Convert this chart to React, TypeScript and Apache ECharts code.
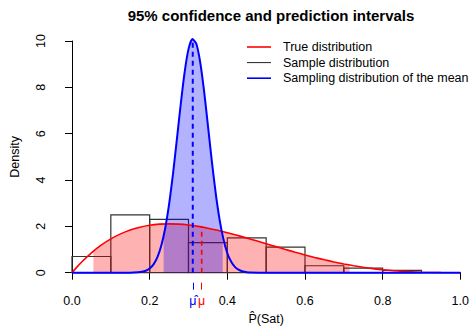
import React, { useEffect, useRef } from "react";
import * as echarts from "echarts";

const TITLE = "95% confidence and prediction intervals";
const X_NAME = "P\u0302(Sat)";
const Y_NAME = "Density";
const MU_HAT_LABEL = "\u03bc\u0302";
const MU_LABEL = "\u03bc";

// Histogram (sample distribution)
const binStart = [0.0, 0.1, 0.2, 0.3, 0.4, 0.5, 0.6, 0.7, 0.8];
const binEnd = [0.1, 0.2, 0.3, 0.4, 0.5, 0.6, 0.7, 0.8, 0.9];
const binDensity = [0.7, 2.5, 2.3, 1.3, 1.5, 1.1, 0.3, 0.2, 0.1];

// True distribution curve
const trueX = [0, 0.0125, 0.025, 0.05, 0.075, 0.1, 0.125, 0.15, 0.175, 0.2, 0.225, 0.25, 0.275, 0.3, 0.325, 0.35, 0.375, 0.4, 0.425, 0.45, 0.475, 0.5, 0.525, 0.55, 0.575, 0.6, 0.625, 0.65, 0.675, 0.7, 0.725, 0.75, 0.775, 0.8, 0.85, 0.9, 0.95, 1.0];
const trueY = [0, 0.241, 0.463, 0.857, 1.187, 1.458, 1.675, 1.842, 1.965, 2.048, 2.095, 2.109, 2.096, 2.058, 1.999, 1.922, 1.831, 1.728, 1.616, 1.497, 1.375, 1.25, 1.125, 1.002, 0.883, 0.768, 0.659, 0.557, 0.463, 0.378, 0.302, 0.234, 0.177, 0.128, 0.057, 0.018, 0.002, 0];

// 95% prediction interval shading (pink)
const predX = [0.055, 0.075, 0.1, 0.125, 0.15, 0.175, 0.2, 0.225, 0.25, 0.275, 0.3, 0.325, 0.35, 0.375, 0.4, 0.425, 0.45, 0.475, 0.5, 0.525, 0.55, 0.575, 0.6, 0.625, 0.65, 0.675, 0.7, 0.715];
const predY = [0.928, 1.187, 1.458, 1.675, 1.842, 1.965, 2.048, 2.095, 2.109, 2.096, 2.058, 1.999, 1.922, 1.831, 1.728, 1.616, 1.497, 1.375, 1.25, 1.125, 1.002, 0.883, 0.768, 0.659, 0.557, 0.463, 0.378, 0.331];

// Sampling distribution of the mean (blue)
const meanX = [0, 0.15, 0.17, 0.18, 0.19, 0.2, 0.21, 0.22, 0.23, 0.24, 0.25, 0.26, 0.27, 0.28, 0.29, 0.3, 0.31, 0.32, 0.33, 0.34, 0.35, 0.36, 0.37, 0.38, 0.39, 0.4, 0.41, 0.42, 0.43, 0.44, 0.45, 0.46, 0.48, 0.5, 1.0];
const meanY = [0, 0, 0.016, 0.038, 0.086, 0.18, 0.36, 0.67, 1.17, 1.92, 2.95, 4.25, 5.74, 7.27, 8.65, 9.65, 10.09, 9.89, 9.1, 7.86, 6.36, 4.83, 3.44, 2.3, 1.44, 0.84, 0.47, 0.24, 0.12, 0.053, 0.023, 0.009, 0.001, 0, 0];

// 95% confidence interval shading (blue)
const ciX = [0.236, 0.24, 0.25, 0.26, 0.27, 0.28, 0.29, 0.3, 0.31, 0.32, 0.33, 0.34, 0.35, 0.36, 0.37, 0.38, 0.388];
const ciY = [1.59, 1.92, 2.95, 4.25, 5.74, 7.27, 8.65, 9.65, 10.09, 9.89, 9.1, 7.86, 6.36, 4.83, 3.44, 2.3, 1.59];

const MU_HAT = 0.311;
const MU_HAT_DENS = 10.09;
const MU = 0.334;
const MU_DENS = 1.973;

const xTicks = [0, 0.2, 0.4, 0.6, 0.8, 1.0];
const legendNames = ["True distribution", "Sample distribution", "Sampling distribution of the mean"];
const legendColors = ["#ff0000", "#222222", "#0000ff"];

const FONT = "'Liberation Sans', Arial, Helvetica, sans-serif";

const zip = (xs: number[], ys: number[]) => xs.map((x, i) => [x, ys[i]]);

export default function App() {
  const ref = useRef<HTMLDivElement>(null);
  useEffect(() => {
    if (!ref.current) return;
    const chart = echarts.init(ref.current, undefined, { renderer: "svg" });
    const legendGraphics: any[] = [];
    legendNames.forEach((name, i) => {
      const y = 47 + i * 15.6;
      legendGraphics.push({
        type: "line",
        shape: { x1: 247, y1: y, x2: 271, y2: y },
        style: { stroke: legendColors[i], lineWidth: i === 1 ? 1 : 1.6 },
      });
      legendGraphics.push({
        type: "text",
        x: 283,
        y: y,
        style: { text: name, font: `12.5px ${FONT}`, fill: "#000", textVerticalAlign: "middle", verticalAlign: "middle" },
      });
    });
    const baseX = {
      type: "value",
      min: 0,
      max: 1,
      position: "bottom",
      offset: 10,
      splitLine: { show: false },
    };
    chart.setOption({
      animation: false,
      title: {
        text: TITLE,
        left: 266,
        textAlign: "center",
        top: 3,
        textStyle: { fontFamily: FONT, fontSize: 15, fontWeight: "bold", color: "#000" },
      },
      grid: { left: 70, right: 10, top: 41, bottom: 61.3, containLabel: false },
      xAxis: [
        {
          ...baseX,
          interval: 0.2,
          axisLine: { show: true, lineStyle: { color: "#000", width: 1 } },
          axisTick: { show: true, length: 7, lineStyle: { color: "#000" }, customValues: xTicks },
          axisLabel: {
            show: true,
            margin: 12,
            color: "#000",
            fontSize: 12.5,
            fontFamily: FONT,
            customValues: xTicks,
            formatter: (v: number) => v.toFixed(1),
          },
          name: X_NAME,
          nameLocation: "middle",
          nameGap: 30,
          nameTextStyle: { fontFamily: FONT, fontSize: 12.5, color: "#000" },
        },
        {
          ...baseX,
          axisLine: { show: false },
          axisTick: { show: true, length: 7, lineStyle: { color: "#0000ff" }, customValues: [MU_HAT] },
          axisLabel: {
            show: true,
            margin: 12,
            color: "#0000ff",
            fontSize: 12.5,
            fontFamily: FONT,
            customValues: [MU_HAT],
            formatter: () => MU_HAT_LABEL,
          },
        },
        {
          ...baseX,
          axisLine: { show: false },
          axisTick: { show: true, length: 7, lineStyle: { color: "#ff0000" }, customValues: [MU] },
          axisLabel: {
            show: true,
            margin: 12,
            color: "#ff0000",
            fontSize: 12.5,
            fontFamily: FONT,
            customValues: [MU],
            formatter: () => MU_LABEL,
          },
        },
      ],
      yAxis: {
        type: "value",
        min: 0,
        max: 10,
        interval: 2,
        offset: 15,
        splitLine: { show: false },
        axisLine: { show: true, lineStyle: { color: "#000" } },
        axisTick: { show: true, length: 7, lineStyle: { color: "#000" } },
        axisLabel: { rotate: 90, margin: 10, color: "#000", fontSize: 12.5, fontFamily: FONT },
        name: Y_NAME,
        nameLocation: "middle",
        nameGap: 36,
        nameTextStyle: { fontFamily: FONT, fontSize: 12.5, color: "#000" },
      },
      graphic: legendGraphics,
      series: [
        {
          name: "Prediction interval",
          type: "line",
          data: zip(predX, predY),
          showSymbol: false,
          symbol: "none",
          smooth: 0.2,
          lineStyle: { width: 0, opacity: 0 },
          areaStyle: { color: "rgba(255,0,0,0.3)", opacity: 1 },
          silent: true,
        },
        {
          name: "Sample distribution",
          type: "custom",
          data: binStart.map((s, i) => [s, binEnd[i], binDensity[i]]),
          encode: { x: [0, 1], y: 2 },
          renderItem: (params: any, api: any) => {
            const p0 = api.coord([api.value(0), api.value(2)]);
            const p1 = api.coord([api.value(1), 0]);
            return {
              type: "rect",
              shape: { x: p0[0], y: p0[1], width: p1[0] - p0[0], height: p1[1] - p0[1] },
              style: { fill: "none", stroke: "#333333", lineWidth: 1.2 },
            };
          },
          silent: true,
        },
        {
          name: "True distribution",
          type: "line",
          data: zip(trueX, trueY),
          showSymbol: false,
          symbol: "none",
          smooth: 0.2,
          lineStyle: { color: "#ff0000", width: 1.6 },
          silent: true,
        },
        {
          name: "mu",
          type: "line",
          data: [[MU, 0], [MU, MU_DENS]],
          showSymbol: false,
          symbol: "none",
          lineStyle: { color: "#ff0000", width: 1.6, type: [5, 4] },
          silent: true,
        },
        {
          name: "Confidence interval",
          type: "line",
          data: zip(ciX, ciY),
          showSymbol: false,
          symbol: "none",
          smooth: 0.2,
          clip: false,
          lineStyle: { width: 0, opacity: 0 },
          areaStyle: { color: "rgba(0,0,255,0.3)", opacity: 1 },
          silent: true,
        },
        {
          name: "Sampling distribution of the mean",
          type: "line",
          data: zip(meanX, meanY),
          showSymbol: false,
          symbol: "none",
          smooth: 0.2,
          clip: false,
          lineStyle: { color: "#0000ff", width: 2 },
          silent: true,
        },
        {
          name: "mu hat",
          type: "line",
          data: [[MU_HAT, 0], [MU_HAT, MU_HAT_DENS]],
          showSymbol: false,
          symbol: "none",
          clip: false,
          lineStyle: { color: "#0000ff", width: 2, type: [5, 4] },
          silent: true,
        },
      ],
    });
    return () => chart.dispose();
  }, []);
  return <div ref={ref} style={{ width: 472, height: 334, position: "absolute", left: 0, top: 0, background: "#fff" }} />;
}
